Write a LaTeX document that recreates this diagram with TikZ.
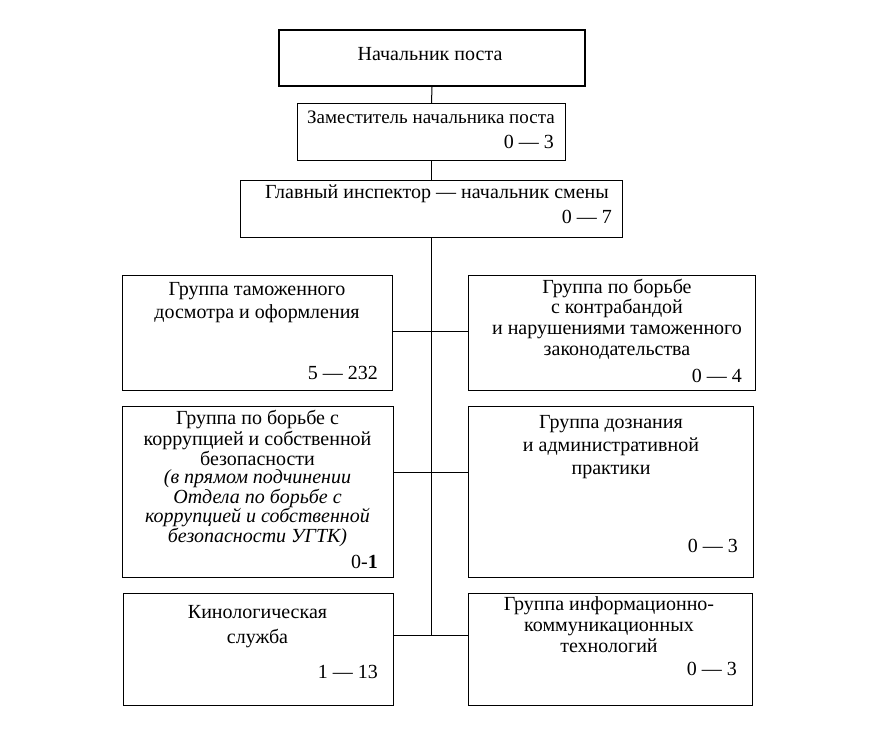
\documentclass[tikz,border=0pt]{standalone}
\usepackage{fontspec}
\setmainfont{Liberation Serif}
\begin{document}
\begin{tikzpicture}[x=1pt,y=-1pt,
  box/.style={draw=black, line width=1pt, inner sep=0pt, anchor=north west},
  topbox/.style={box, line width=2pt},
  link/.style={draw=black, line width=1pt},
  lbl/.style={inner sep=0pt, align=center, anchor=north, font=\fontsize{20}{#1}\selectfont},
  lbl/.default=23,
  one/.style={inner sep=0pt, anchor=base, font=\fontsize{20}{23}\selectfont},
  num/.style={inner sep=0pt, anchor=base east, font=\fontsize{20}{23}\selectfont},
]
\useasboundingbox (0,0) rectangle (870,739);

% boxes
\node[topbox, minimum width=306pt, minimum height=56pt] (b1) at (278,29) {};
\node[box, minimum width=268pt, minimum height=57pt] (b2) at (297,103) {};
\node[box, minimum width=382pt, minimum height=57pt] (b3) at (240,180) {};
\node[box, minimum width=270pt, minimum height=115pt] (L1) at (122,275) {};
\node[box, minimum width=271pt, minimum height=171pt] (L2) at (122,406) {};
\node[box, minimum width=287pt, minimum height=115pt] (R1) at (468,275) {};
\node[box, minimum width=285pt, minimum height=171pt] (R2) at (468,406) {};
\node[box, minimum width=270pt, minimum height=112pt] (L3) at (123,593) {};
\node[box, minimum width=284pt, minimum height=112pt] (R3) at (468,593) {};

% texts
\node[one] (b1t) at (430,60) {Начальник поста};
\node[one, font=\fontsize{19}{23}\selectfont] (b2t) at (431,123) {Заместитель начальника поста};
\node[num] (b2n) at (554,148) {0 — 3};
\node[one] (b3t) at (437,198) {Главный инспектор — начальник смены};
\node[num] (b3n) at (612,223) {0 — 7};

\node[lbl=23] (L1t) at (257,278.9) {\strut Группа таможенного\\досмотра и оформления};
\node[num] (L1n) at (378,379) {5 — 232};

\node[lbl=18.5] (L2t) at (257.5,410) {\strut Группа по борьбе с\\коррупцией и собственной\\безопасности\\{\itshape (в прямом подчинении}\\{\itshape Отдела по борьбе с}\\{\itshape коррупцией и собственной}\\{\itshape безопасности УГТК)}};
\node[num] (L2n) at (378,568) {0-\textbf{1}};

\node[lbl=20.7] (R1t) at (617,278.5) {\strut Группа по борьбе\\с контрабандой\\и нарушениями таможенного\\законодательства};
\node[num] (R1n) at (742,382) {0 — 4};

\node[lbl=23] (R2t) at (611,411.9) {\strut Группа дознания\\и административной\\практики};
\node[num] (R2n) at (738,552) {0 — 3};

\node[lbl=25] (L3t) at (257.5,600.5) {\strut Кинологическая\\служба};
\node[num] (L3n) at (378,678) {1 — 13};

\node[lbl=21] (R3t) at (609,595.3) {\strut Группа информационно-\\коммуникационных\\технологий};
\node[num] (R3n) at (737,675) {0 — 3};

% connectors
\coordinate (j1) at (431.5,331);
\coordinate (j2) at (431.5,472);
\coordinate (j3) at (431.5,635);
\draw[link] (b1.south) -- (b2.north);
\draw[link] (b2.south) -- (b3.north);
\draw[link] (b3.south) -- (b3.south |- j3);
\draw[link] (L1.east |- j1) -- (R1.west |- j1);
\draw[link] (L2.east |- j2) -- (R2.west |- j2);
\draw[link] (L3.east |- j3) -- (R3.west |- j3);
\end{tikzpicture}
\end{document}
